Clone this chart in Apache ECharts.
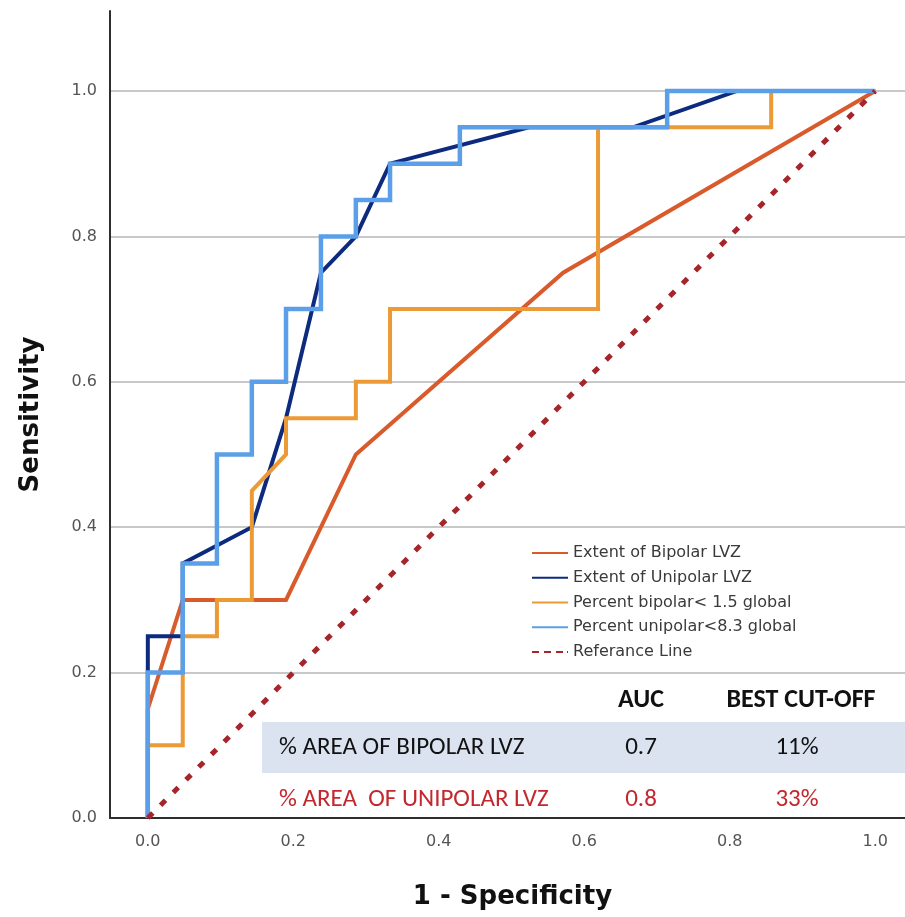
<!DOCTYPE html>
<html>
<head>
<meta charset="utf-8">
<title>ROC curves</title>
<script src="https://cdn.jsdelivr.net/npm/echarts@6.0.0/dist/echarts.min.js"></script>
<style>
  html, body { margin: 0; padding: 0; background: #fff; }
  #chart { width: 905px; height: 917px; }
</style>
</head>
<body>
<div id="chart"></div>
<script>
// ROC points, [1 - specificity, sensitivity]
const bipolarExtent = [[0, 0], [0, 0.15], [0.048, 0.3], [0.19, 0.3], [0.286, 0.5], [0.571, 0.75], [1, 1]]
const unipolarExtent = [[0, 0], [0, 0.25], [0.048, 0.25], [0.048, 0.35], [0.143, 0.4], [0.19, 0.55], [0.238, 0.75], [0.286, 0.8], [0.333, 0.9], [0.524, 0.95], [0.667, 0.95], [0.81, 1], [1, 1]]
const bipolarPercent = [[0, 0], [0, 0.1], [0.048, 0.1], [0.048, 0.25], [0.095, 0.25], [0.095, 0.3], [0.143, 0.3], [0.143, 0.45], [0.19, 0.5], [0.19, 0.55], [0.286, 0.55], [0.286, 0.6], [0.333, 0.6], [0.333, 0.7], [0.619, 0.7], [0.619, 0.95], [0.857, 0.95], [0.857, 1], [1, 1]]
const unipolarPercent = [[0, 0], [0, 0.2], [0.048, 0.2], [0.048, 0.35], [0.095, 0.35], [0.095, 0.5], [0.143, 0.5], [0.143, 0.6], [0.19, 0.6], [0.19, 0.7], [0.238, 0.7], [0.238, 0.8], [0.286, 0.8], [0.286, 0.85], [0.333, 0.85], [0.333, 0.9], [0.429, 0.9], [0.429, 0.95], [0.714, 0.95], [0.714, 1], [1, 1]]
const referenceLine = [[0, 0], [1, 1]]

const seriesNames = ['Extent of Bipolar LVZ', 'Extent of Unipolar LVZ', 'Percent bipolar< 1.5 global', 'Percent unipolar<8.3 global', 'Referance Line']
const seriesColors = ['#d95a2b', '#0d2b7e', '#ec9a36', '#5b9fe8', '#a4262c']
const tickValues = [0, 0.2, 0.4, 0.6, 0.8, 1.0]

const tableHeader = ['AUC', 'BEST CUT-OFF']
const tableRows = [
  ['% AREA OF BIPOLAR LVZ', '0.7', '11%'],
  ['% AREA  OF UNIPOLAR LVZ', '0.8', '33%']
]

const chart = echarts.init(document.getElementById('chart'))

function rocSeries(index, data, extra) {
  return Object.assign({
    name: seriesNames[index],
    type: 'line',
    data: data,
    symbol: 'none',
    silent: true,
    z: 2 + index,
    lineStyle: { color: seriesColors[index], width: 4, join: 'miter', cap: 'butt' },
    itemStyle: { color: seriesColors[index] }
  }, extra || {})
}

const font = 'DejaVu Sans, sans-serif'
const tableFont = 'Carlito, Open Sans, Liberation Sans, sans-serif'
const solidIcon = 'path://M0,0H36V2H0Z'
const dashedIcon = 'path://M0,0H7V2H0ZM12,0H19V2H12ZM24,0H31V2H24ZM35,0H36V2H35Z'

function cellText(x, y, text, weight, size, color, align) {
  return {
    type: 'text', x: x, y: y, z: 11,
    style: { text: text, font: weight + ' ' + size + 'px ' + tableFont, fill: color, align: align, verticalAlign: 'middle' }
  }
}

const option = {
  animation: false,
  grid: { left: 110, top: 11, right: 0, bottom: 99, outerBoundsMode: 'none', containLabel: false },
  xAxis: {
    type: 'value',
    min: -0.052,
    max: 1.041,
    axisLine: { show: true, onZero: false, lineStyle: { color: '#2e2e2e', width: 2 } },
    axisTick: { show: false },
    splitLine: { show: false },
    axisLabel: {
      customValues: tickValues,
      formatter: (v) => v.toFixed(1),
      color: '#555',
      fontSize: 16,
      fontFamily: font,
      margin: 16
    },
    name: '1 - Specificity',
    nameLocation: 'middle',
    nameGap: 66,
    nameTextStyle: { fontSize: 26, fontWeight: 'bold', color: '#111', fontFamily: font, padding: [0, 0, 0, 10] }
  },
  yAxis: {
    type: 'value',
    min: 0,
    max: 1.11,
    interval: 0.2,
    axisLine: { show: true, onZero: false, lineStyle: { color: '#2e2e2e', width: 2 } },
    axisTick: { show: false },
    splitLine: { show: true, showMinLine: false, showMaxLine: false, lineStyle: { color: '#c8c8c8', width: 2 } },
    axisLabel: {
      showMaxLabel: false,
      formatter: (v) => v.toFixed(1),
      color: '#555',
      fontSize: 16,
      fontFamily: font,
      margin: 13
    },
    name: 'Sensitivity',
    nameLocation: 'middle',
    nameGap: 66,
    nameTextStyle: { fontSize: 26, fontWeight: 'bold', color: '#111', fontFamily: font }
  },
  legend: {
    orient: 'vertical',
    left: 532,
    top: 545,
    padding: 0,
    itemWidth: 36,
    itemHeight: 14,
    itemGap: 8.75,
    selectedMode: false,
    textStyle: { fontSize: 16, color: '#3a3a3a', fontFamily: font },
    data: seriesNames.map((name, i) => ({ name: name, icon: i === 4 ? dashedIcon : solidIcon }))
  },
  series: [
    rocSeries(0, bipolarExtent),
    rocSeries(1, unipolarExtent),
    rocSeries(2, bipolarPercent),
    rocSeries(3, unipolarPercent, {
      lineStyle: { color: seriesColors[3], width: 4.5, join: 'miter', cap: 'butt' }
    }),
    rocSeries(4, referenceLine, {
      lineStyle: { color: seriesColors[4], width: 5, type: [7, 11] }
    })
  ],
  graphic: [
    { type: 'rect', left: 262, top: 722, shape: { width: 643, height: 51 }, style: { fill: '#dae3ef' }, z: 10 },
    cellText(641, 700, tableHeader[0], 'bold', 26, '#111', 'center'),
    cellText(801, 700, tableHeader[1], 'bold', 26, '#111', 'center'),
    cellText(279, 748, tableRows[0][0], 'normal', 25, '#111', 'left'),
    cellText(641, 748, tableRows[0][1], 'normal', 25, '#111', 'center'),
    cellText(797, 748, tableRows[0][2], 'normal', 25, '#111', 'center'),
    cellText(279, 800, tableRows[1][0], 'normal', 25, '#c3282e', 'left'),
    cellText(641, 800, tableRows[1][1], 'normal', 25, '#c3282e', 'center'),
    cellText(797, 800, tableRows[1][2], 'normal', 25, '#c3282e', 'center')
  ]
}

chart.setOption(option)
</script>
</body>
</html>
